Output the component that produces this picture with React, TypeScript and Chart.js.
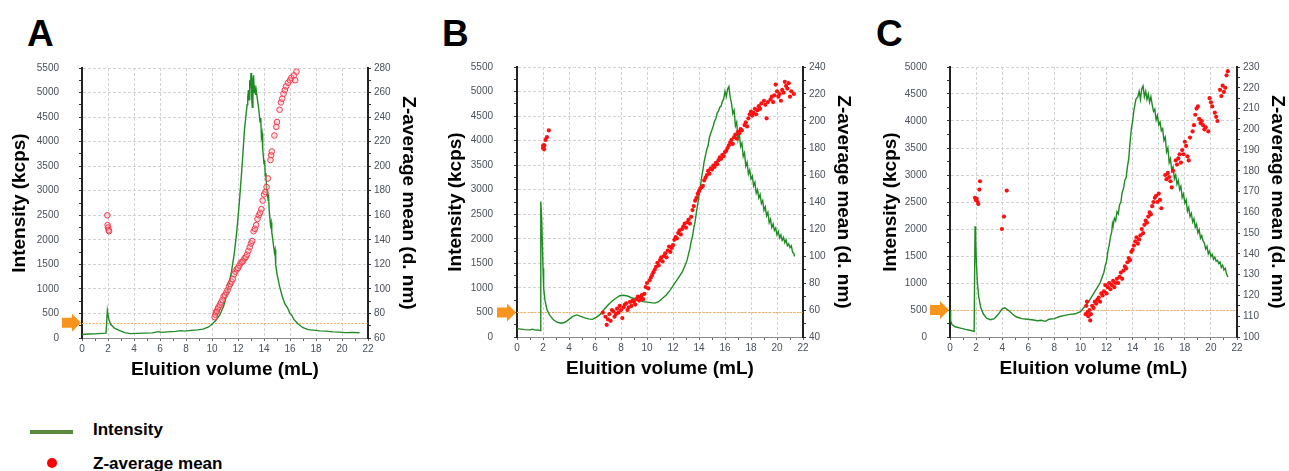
import React, { useEffect, useRef } from 'react';
import { Chart, registerables } from 'chart.js';

Chart.register(...registerables);

// ---------- DATA (elution volume mL, value) ----------
const intensityA: [number, number][] = [
  [0, 70], [0.5, 80], [1.0, 85], [1.5, 95], [1.85, 100], [1.95, 560], [2.05, 400], [2.2, 280], [2.5, 200],
  [2.9, 150], [3.3, 110], [3.7, 90], [4.2, 95], [4.8, 100], [5.4, 105], [5.9, 130], [6.1, 115], [6.6, 125],
  [7.2, 135], [7.6, 150], [7.9, 140], [8.4, 155], [8.9, 165], [9.3, 180], [9.7, 220], [10.0, 280], [10.3, 360],
  [10.6, 470], [10.9, 650], [11.1, 850], [11.3, 1100], [11.5, 1350], [11.7, 1700], [11.9, 2150], [12.0, 2450],
  [12.1, 2750], [12.2, 3100], [12.3, 3450], [12.4, 3850], [12.5, 4250], [12.6, 4500], [12.7, 4750], [12.75, 4900],
  [12.8, 5050], [12.85, 4850], [12.9, 5250], [12.95, 5100], [13.0, 5400], [13.05, 4900], [13.1, 4700],
  [13.15, 5250], [13.2, 5350], [13.25, 5000], [13.3, 5150], [13.35, 4950], [13.4, 5050], [13.5, 4850],
  [13.6, 4650], [13.7, 4400], [13.75, 4480], [13.8, 4100], [13.85, 4170], [13.9, 3850], [14.0, 3550],
  [14.05, 3620], [14.1, 3300], [14.15, 3360], [14.2, 3050], [14.3, 2850], [14.35, 2900], [14.4, 2600],
  [14.5, 2300], [14.55, 2360], [14.6, 2150], [14.7, 1950], [14.8, 1750], [14.85, 1800], [14.9, 1500],
  [15.0, 1300], [15.2, 1050], [15.4, 850], [15.6, 700], [15.8, 620], [16.0, 500], [16.1, 480], [16.3, 380],
  [16.6, 290], [17.0, 210], [17.4, 170], [17.8, 160], [18.3, 145], [18.8, 140], [19.3, 125], [19.8, 120],
  [20.3, 110], [20.8, 115], [21.35, 108],
];
const zMeanA: [number, number][] = [
  [1.95, 160], [1.97, 152], [2.0, 150], [2.05, 148], [2.08, 147],
  [10.2, 77], [10.25, 79], [10.3, 81], [10.38, 82], [10.45, 84], [10.5, 85], [10.6, 87], [10.7, 89], [10.8, 91],
  [10.9, 94], [11.0, 95], [11.1, 97], [11.2, 99], [11.3, 102], [11.4, 104], [11.5, 106], [11.6, 108], [11.7, 112],
  [11.8, 114], [11.9, 116], [12.0, 117], [12.1, 119], [12.2, 121], [12.3, 122], [12.4, 123], [12.5, 125],
  [12.6, 126], [12.7, 128], [12.8, 131], [12.9, 134], [13.0, 137], [13.1, 139], [13.2, 147], [13.3, 149],
  [13.4, 152], [13.5, 157], [13.6, 160], [13.7, 162], [13.8, 165], [13.9, 172], [14.0, 177], [14.1, 179],
  [14.2, 183], [14.3, 190], [14.5, 205], [14.55, 209], [14.6, 212], [14.8, 225], [14.95, 232], [15.0, 236],
  [15.2, 246], [15.3, 252], [15.4, 255], [15.5, 259], [15.6, 262], [15.7, 265], [15.85, 268], [16.0, 270],
  [16.1, 272], [16.3, 274], [16.4, 270], [16.5, 277],
];

const intensityB: [number, number][] = [
  [0, 170], [0.3, 160], [0.6, 150], [1.0, 145], [1.2, 160], [1.4, 140], [1.6, 145], [1.8, 130], [1.83, 2760],
  [1.9, 2400], [1.95, 1900], [2.0, 1400], [2.05, 1000], [2.15, 750], [2.3, 560], [2.5, 450], [2.8, 350],
  [3.1, 300], [3.4, 280], [3.7, 300], [4.0, 360], [4.3, 420], [4.6, 450], [4.9, 420], [5.2, 390], [5.5, 370],
  [5.8, 360], [6.1, 400], [6.4, 460], [6.7, 560], [7.0, 650], [7.3, 730], [7.6, 790], [7.9, 840], [8.2, 850],
  [8.5, 835], [8.8, 800], [9.1, 780], [9.4, 740], [9.7, 720], [10.0, 710], [10.3, 700], [10.6, 690], [10.9, 720],
  [11.2, 790], [11.5, 860], [11.8, 960], [12.1, 1080], [12.4, 1200], [12.7, 1320], [13.0, 1500], [13.1, 1580],
  [13.2, 1700], [13.3, 1800], [13.4, 1950], [13.5, 2050], [13.6, 2220], [13.7, 2350], [13.8, 2540], [13.9, 2700],
  [14.0, 2880], [14.1, 3050], [14.2, 3250], [14.3, 3400], [14.4, 3580], [14.5, 3700], [14.6, 3820], [14.7, 3900],
  [14.8, 4060], [14.9, 4150], [15.0, 4220], [15.1, 4300], [15.2, 4400], [15.3, 4450], [15.4, 4560], [15.5, 4600],
  [15.6, 4680], [15.7, 4700], [15.8, 4800], [15.9, 4850], [16.0, 5000], [16.1, 4900], [16.2, 5050], [16.3, 5100],
  [16.4, 4880], [16.5, 4760], [16.6, 4550], [16.7, 4620], [16.8, 4300], [16.9, 4380], [17.0, 4020], [17.1, 4150],
  [17.2, 3880], [17.3, 3950], [17.4, 3680], [17.5, 3750], [17.6, 3480], [17.7, 3560], [17.8, 3320], [17.9, 3400],
  [18.0, 3220], [18.1, 3280], [18.2, 3080], [18.3, 3150], [18.4, 2930], [18.5, 3000], [18.6, 2830], [18.7, 2900],
  [18.8, 2720], [18.9, 2780], [19.0, 2580], [19.1, 2650], [19.2, 2470], [19.3, 2540], [19.4, 2330], [19.5, 2400],
  [19.6, 2230], [19.7, 2300], [19.8, 2170], [19.9, 2220], [20.0, 2080], [20.1, 2150], [20.2, 2020], [20.3, 2080],
  [20.4, 1970], [20.5, 2030], [20.6, 1920], [20.7, 1980], [20.8, 1860], [20.9, 1900], [21.0, 1820], [21.1, 1860],
  [21.2, 1730], [21.3, 1700], [21.35, 1640],
];
const zMeanB: [number, number][] = [
  [2.0, 180], [2.02, 182], [2.05, 181], [2.08, 179], [2.1, 182], [2.2, 186], [2.3, 188], [2.45, 193],
  [6.6, 58], [6.8, 55], [6.9, 49], [7.0, 53], [7.1, 57], [7.2, 52], [7.3, 60], [7.4, 59], [7.5, 55], [7.6, 57],
  [7.7, 61], [7.8, 58], [7.9, 63], [8.0, 60], [8.1, 54], [8.2, 62], [8.3, 64], [8.4, 65], [8.5, 60], [8.6, 62],
  [8.7, 66], [8.8, 63], [8.9, 67], [9.0, 66], [9.1, 64], [9.2, 68], [9.3, 70], [9.4, 67], [9.5, 69], [9.6, 71],
  [9.7, 68], [9.8, 72], [9.9, 77], [10.0, 80], [10.1, 76], [10.2, 82], [10.3, 84], [10.4, 86], [10.5, 88],
  [10.6, 90], [10.7, 92], [10.8, 95], [10.9, 93], [11.0, 97], [11.1, 99], [11.2, 96], [11.3, 100], [11.4, 102],
  [11.5, 99], [11.6, 104], [11.7, 107], [11.8, 103], [11.9, 106], [12.0, 108], [12.1, 112], [12.2, 114],
  [12.3, 113], [12.4, 117], [12.5, 119], [12.6, 116], [12.7, 120], [12.8, 122], [12.9, 124], [13.0, 121],
  [13.1, 125], [13.2, 127], [13.3, 124], [13.4, 129], [13.5, 134], [13.6, 137], [13.7, 141], [13.8, 143],
  [13.9, 146], [14.0, 148], [14.1, 150], [14.2, 151], [14.3, 152], [14.4, 156], [14.5, 158], [14.6, 160],
  [14.7, 163], [14.8, 161], [14.9, 165], [15.0, 164], [15.1, 167], [15.2, 166], [15.3, 169], [15.4, 168],
  [15.5, 171], [15.6, 173], [15.7, 172], [15.8, 175], [15.9, 174], [16.0, 177], [16.1, 178], [16.2, 180],
  [16.3, 182], [16.4, 184], [16.5, 186], [16.6, 183], [16.7, 188], [16.8, 190], [16.9, 187], [17.0, 192],
  [17.1, 191], [17.2, 194], [17.3, 193], [17.5, 197], [17.6, 199], [17.7, 196], [17.8, 202], [17.9, 205],
  [18.0, 207], [18.1, 204], [18.2, 206], [18.3, 209], [18.4, 205], [18.5, 208], [18.6, 211], [18.7, 209],
  [18.8, 213], [19.0, 215], [19.1, 212], [19.2, 202], [19.3, 214], [19.5, 216], [19.6, 218], [19.7, 214],
  [19.8, 219], [19.9, 227], [20.0, 222], [20.1, 218], [20.2, 220], [20.3, 215], [20.4, 223], [20.5, 221],
  [20.6, 229], [20.7, 226], [20.8, 224], [20.9, 228], [21.0, 218], [21.1, 222], [21.3, 220],
];

const intensityC: [number, number][] = [
  [0, 500], [0.05, 300], [0.15, 230], [0.4, 190], [0.8, 165], [1.2, 140], [1.6, 120], [1.85, 105], [1.92, 2050],
  [1.97, 1800], [2.02, 1400], [2.1, 1000], [2.2, 750], [2.35, 550], [2.55, 430], [2.8, 350], [3.1, 320],
  [3.4, 340], [3.7, 420], [4.0, 520], [4.2, 540], [4.5, 490], [4.8, 420], [5.1, 370], [5.5, 340], [5.9, 330],
  [6.3, 320], [6.7, 300], [7.0, 310], [7.3, 290], [7.6, 330], [8.0, 340], [8.4, 380], [8.8, 400], [9.2, 420],
  [9.6, 430], [10.0, 470], [10.3, 560], [10.6, 640], [10.9, 760], [11.2, 880], [11.5, 1000], [11.8, 1200],
  [11.9, 1320], [12.0, 1400], [12.1, 1580], [12.2, 1700], [12.3, 1850], [12.4, 1950], [12.45, 2100], [12.5, 2050],
  [12.6, 2200], [12.7, 2150], [12.8, 2320], [12.9, 2280], [13.0, 2450], [13.1, 2500], [13.2, 2680], [13.3, 2750],
  [13.4, 2900], [13.5, 2950], [13.6, 3150], [13.7, 3300], [13.8, 3600], [13.9, 3850], [14.0, 4000], [14.1, 4200],
  [14.25, 4400], [14.4, 4450], [14.5, 4550], [14.6, 4400], [14.7, 4600], [14.8, 4650], [14.9, 4450], [15.0, 4550],
  [15.1, 4400], [15.2, 4500], [15.3, 4350], [15.4, 4450], [15.5, 4300], [15.6, 4180], [15.7, 4220], [15.8, 4020],
  [15.9, 4100], [16.0, 3930], [16.1, 3980], [16.2, 3820], [16.3, 3860], [16.4, 3640], [16.5, 3700], [16.6, 3430],
  [16.7, 3500], [16.8, 3230], [16.9, 3300], [17.0, 3080], [17.1, 3150], [17.2, 2930], [17.3, 3000], [17.4, 2830],
  [17.5, 2900], [17.6, 2730], [17.7, 2790], [17.8, 2580], [17.9, 2650], [18.0, 2480], [18.1, 2540], [18.2, 2330],
  [18.3, 2400], [18.4, 2230], [18.5, 2290], [18.6, 2130], [18.7, 2190], [18.8, 2030], [18.9, 2090], [19.0, 1930],
  [19.1, 1990], [19.2, 1830], [19.3, 1880], [19.4, 1780], [19.5, 1740], [19.6, 1630], [19.7, 1680], [19.8, 1540],
  [19.9, 1590], [20.0, 1490], [20.1, 1530], [20.2, 1440], [20.3, 1480], [20.4, 1400], [20.5, 1420], [20.6, 1360],
  [20.7, 1390], [20.8, 1290], [20.9, 1330], [21.0, 1240], [21.1, 1270], [21.2, 1170], [21.3, 1110],
];
const zMeanC: [number, number][] = [
  [1.92, 167], [1.98, 166], [2.05, 166.5], [2.12, 165], [2.17, 164], [2.25, 171], [2.3, 175],
  [3.98, 152], [4.14, 158], [4.35, 170.5],
  [10.4, 111], [10.45, 115], [10.5, 117], [10.55, 112], [10.6, 110], [10.7, 113], [10.75, 108], [10.8, 111],
  [10.9, 115], [11.0, 114], [11.1, 117], [11.2, 116], [11.3, 118], [11.4, 119], [11.5, 117], [11.6, 121],
  [11.7, 120], [11.8, 122], [11.9, 125], [12.0, 121], [12.1, 124], [12.2, 126], [12.3, 123], [12.4, 125],
  [12.5, 127], [12.6, 124], [12.7, 126], [12.8, 128], [12.9, 126], [13.0, 129], [13.1, 131], [13.2, 128],
  [13.3, 132], [13.4, 134], [13.5, 133], [13.6, 136], [13.7, 138], [13.8, 137], [13.9, 141], [14.0, 142],
  [14.1, 144], [14.2, 146], [14.3, 148], [14.4, 145], [14.5, 147], [14.6, 149], [14.7, 152], [14.8, 150],
  [14.9, 154], [15.0, 156], [15.1, 155], [15.2, 158], [15.3, 160], [15.4, 159], [15.5, 163], [15.6, 165],
  [15.7, 167], [15.8, 168], [15.9, 165], [16.0, 169], [16.1, 166], [16.2, 162], [16.5, 178], [16.6, 176],
  [16.7, 179], [16.8, 177], [16.9, 175], [17.0, 172], [17.1, 180], [17.3, 185], [17.4, 183], [17.5, 186],
  [17.6, 188], [17.7, 184], [17.8, 190], [17.9, 188], [18.0, 194], [18.1, 192], [18.2, 187], [18.3, 185],
  [18.4, 196], [18.6, 199], [18.7, 202], [18.8, 207], [18.9, 210], [19.0, 211], [19.1, 205], [19.2, 203],
  [19.3, 204], [19.4, 202], [19.5, 200], [19.6, 201], [19.8, 199], [19.9, 215], [20.0, 213], [20.1, 211],
  [20.3, 208], [20.4, 206], [20.5, 204], [20.7, 219], [20.8, 216], [20.9, 221], [21.0, 218], [21.1, 220],
  [21.2, 226], [21.3, 228],
];

// axis ranges / ticks
const volumeRange = [0, 22];
const intensityMaxA = 5500;
const intensityMaxB = 5500;
const intensityMaxC = 5000;
const zRangeA = [60, 280];
const zRangeB = [40, 240];
const zRangeC = [100, 230];
const zLabelStepA = 20;
const zLabelStepB = 20;
const zLabelStepC = 10;
const thresholdA = 310;
const thresholdB = 500;
const thresholdC = 500;

const panelLetters = ['A', 'B', 'C'];
const xTitle = 'Eluition volume (mL)';
const yTitle = 'Intensity (kcps)';
const y1Title = 'Z-average mean (d. nm)';
const legendLabels = ['Intensity', 'Z-average mean'];

// ---------- STYLE / LAYOUT ----------
const FONT = "'Liberation Sans', Arial, Helvetica, sans-serif";
const TICK_COLOR = '#48505a';
const GRID_COLOR = '#d2d2d2';
const GREEN = '#1f8b24';
const RED = '#ff0f0f';
const ORANGE = '#f7941d';

type PanelSpec = {
  left: number; top: number; width: number; height: number;
  leftW: number; rightW: number; leftTitlePad: number; rightTitlePad: number; leftTickPad: number;
  intensity: [number, number][]; z: [number, number][]; yMax: number; zRange: number[]; zLabelStep: number;
  zMinor: number; threshold: number; hollow: boolean;
};

const panels: PanelSpec[] = [
  { left: 0, top: 55, width: 430, height: 335, leftW: 82, rightW: 62, leftTitlePad: 8, rightTitlePad: 10.6, leftTickPad: 20,
    intensity: intensityA, z: zMeanA, yMax: intensityMaxA, zRange: zRangeA, zLabelStep: zLabelStepA, zMinor: 10,
    threshold: thresholdA, hollow: true },
  { left: 430, top: 54, width: 430, height: 335, leftW: 87, rightW: 57, leftTitlePad: 14, rightTitlePad: 5.6, leftTickPad: 21,
    intensity: intensityB, z: zMeanB, yMax: intensityMaxB, zRange: zRangeB, zLabelStep: zLabelStepB, zMinor: 10,
    threshold: thresholdB, hollow: false },
  { left: 860, top: 54, width: 429, height: 335, leftW: 90, rightW: 52, leftTitlePad: 19, rightTitlePad: 0, leftTickPad: 20,
    intensity: intensityC, z: zMeanC, yMax: intensityMaxC, zRange: zRangeC, zLabelStep: zLabelStepC, zMinor: 5,
    threshold: thresholdC, hollow: false },
];

const isMult = (v: number, m: number) => Math.abs(v / m - Math.round(v / m)) < 1e-6;

const thresholdPlugin = {
  id: 'threshold',
  beforeDatasetsDraw(chart: any, _args: any, opts: any) {
    const ctx = chart.ctx;
    const y = Math.round(chart.scales.y.getPixelForValue(opts.value)) + 0.5;
    const { left, right } = chart.chartArea;
    ctx.save();
    ctx.strokeStyle = '#f6ad5c';
    ctx.lineWidth = 1;
    ctx.setLineDash([2, 1.5]);
    ctx.beginPath();
    ctx.moveTo(left, y);
    ctx.lineTo(right, y);
    ctx.stroke();
    ctx.restore();
  },
  afterDraw(chart: any, _args: any, opts: any) {
    const ctx = chart.ctx;
    const y = chart.scales.y.getPixelForValue(opts.value);
    const tip = chart.chartArea.left - 1;
    ctx.save();
    ctx.fillStyle = ORANGE;
    ctx.beginPath();
    ctx.moveTo(tip - 19, y - 5);
    ctx.lineTo(tip - 9, y - 5);
    ctx.lineTo(tip - 9, y - 9);
    ctx.lineTo(tip, y);
    ctx.lineTo(tip - 9, y + 9);
    ctx.lineTo(tip - 9, y + 5);
    ctx.lineTo(tip - 19, y + 5);
    ctx.closePath();
    ctx.fill();
    ctx.restore();
  },
};

function Panel({ spec }: { spec: PanelSpec }) {
  const ref = useRef<HTMLCanvasElement>(null);
  useEffect(() => {
    if (!ref.current) return;
    const tickFont = { family: FONT, size: 10 };
    const titleFont = { family: FONT, size: 19, weight: 'bold' as const };
    const fitVertical = (w: number) => (s: any) => {
      s.width = w;
      s.paddingTop = 0;
      s.paddingBottom = 0;
    };
    const chart = new Chart(ref.current, {
      type: 'scatter',
      data: {
        datasets: [
          {
            label: legendLabels[1],
            data: spec.z.map(([x, y]) => ({ x, y })),
            yAxisID: 'y1',
            pointRadius: spec.hollow ? 2.8 : 2.1,
            pointBackgroundColor: spec.hollow ? 'rgba(255,170,180,0.35)' : RED,
            pointBorderColor: spec.hollow ? '#ef3c4c' : RED,
            pointBorderWidth: spec.hollow ? 1 : 0,
            order: 0,
          },
          {
            label: legendLabels[0],
            data: spec.intensity.map(([x, y]) => ({ x, y })),
            yAxisID: 'y',
            showLine: true,
            borderColor: GREEN,
            borderWidth: 1.4,
            pointRadius: 0,
            tension: 0,
            order: 1,
          } as any,
        ],
      },
      options: {
        animation: false,
        responsive: false,
        devicePixelRatio: 1,
        events: [],
        layout: { padding: { top: 13, left: 0, right: 0, bottom: 0 }, autoPadding: false },
        plugins: {
          legend: { display: false },
          tooltip: { enabled: false },
          threshold: { value: spec.threshold },
        } as any,
        scales: {
          x: {
            type: 'linear',
            min: volumeRange[0],
            max: volumeRange[1],
            afterFit: (s: any) => { s.height = 52; s.paddingLeft = 0; s.paddingRight = 0; },
            ticks: {
              stepSize: 1, autoSkip: false, maxRotation: 0, padding: 2, color: TICK_COLOR, font: tickFont,
              callback: (v: any) => (isMult(Number(v), 2) ? String(v) : ''),
            },
            grid: {
              color: (c: any) => (c.tick && isMult(c.tick.value, 2) ? GRID_COLOR : 'rgba(0,0,0,0)'),
              tickColor: '#666', tickLength: 3, lineWidth: 1,
            },
            border: { display: true, color: '#8a8a8a', width: 1, dash: [3, 2] },
            title: { display: true, text: xTitle, color: '#000', font: titleFont, padding: { top: 0, bottom: 8.6 } },
          },
          y: {
            type: 'linear',
            position: 'left',
            min: 0,
            max: spec.yMax,
            afterFit: fitVertical(spec.leftW),
            ticks: {
              stepSize: 250, autoSkip: false, padding: spec.leftTickPad, color: TICK_COLOR, font: tickFont,
              callback: (v: any) => (isMult(Number(v), 500) ? String(v) : ''),
            },
            grid: {
              color: (c: any) => (c.tick && isMult(c.tick.value, 500) && c.tick.value > 0 ? GRID_COLOR : 'rgba(0,0,0,0)'),
              tickColor: '#333', tickLength: 3, lineWidth: 1,
            },
            border: { display: true, color: '#222', width: 2, dash: [3, 2] },
            title: { display: true, text: yTitle, color: '#000', font: titleFont, padding: { top: spec.leftTitlePad, bottom: 0 } },
          },
          y1: {
            type: 'linear',
            position: 'right',
            min: spec.zRange[0],
            max: spec.zRange[1],
            afterFit: fitVertical(spec.rightW),
            ticks: {
              stepSize: spec.zMinor, autoSkip: false, padding: 3, color: TICK_COLOR, font: tickFont,
              callback: (v: any) => (isMult(Number(v), spec.zLabelStep) ? String(v) : ''),
            },
            grid: { drawOnChartArea: false, tickColor: '#333', tickLength: 3, lineWidth: 1 },
            border: { display: true, color: '#222', width: 2 },
            title: { display: true, text: y1Title, color: '#000', font: titleFont, padding: { top: spec.rightTitlePad, bottom: 0 } },
          },
        },
      } as any,
      plugins: [thresholdPlugin as any],
    });
    return () => chart.destroy();
  }, [spec]);
  return (
    <canvas
      ref={ref}
      width={spec.width}
      height={spec.height}
      style={{ position: 'absolute', left: spec.left, top: spec.top, width: spec.width, height: spec.height }}
    />
  );
}

const letterPos = [
  { left: 27, top: 15 },
  { left: 442, top: 15 },
  { left: 876, top: 15 },
];

export default function App() {
  return (
    <div
      style={{
        position: 'fixed', left: 0, top: 0, width: 1289, height: 471, background: '#fff',
        overflow: 'hidden', fontFamily: FONT, color: '#000',
      }}
    >
      {panels.map((p, i) => (
        <Panel key={i} spec={p} />
      ))}
      {panelLetters.map((l, i) => (
        <div
          key={l}
          style={{
            position: 'absolute', left: letterPos[i].left, top: letterPos[i].top, fontSize: 37,
            fontWeight: 'bold', lineHeight: '37px',
          }}
        >
          {l}
        </div>
      ))}
      <div style={{ position: 'absolute', left: 30, top: 430, width: 43, height: 4, background: '#5b8a3c' }} />
      <div style={{ position: 'absolute', left: 93, top: 421, fontSize: 17, fontWeight: 'bold', lineHeight: '17px' }}>
        {legendLabels[0]}
      </div>
      <div style={{ position: 'absolute', left: 47, top: 458, width: 10, height: 10, borderRadius: 5, background: '#ff0000' }} />
      <div style={{ position: 'absolute', left: 93, top: 454.5, fontSize: 17, fontWeight: 'bold', lineHeight: '17px' }}>
        {legendLabels[1]}
      </div>
    </div>
  );
}
